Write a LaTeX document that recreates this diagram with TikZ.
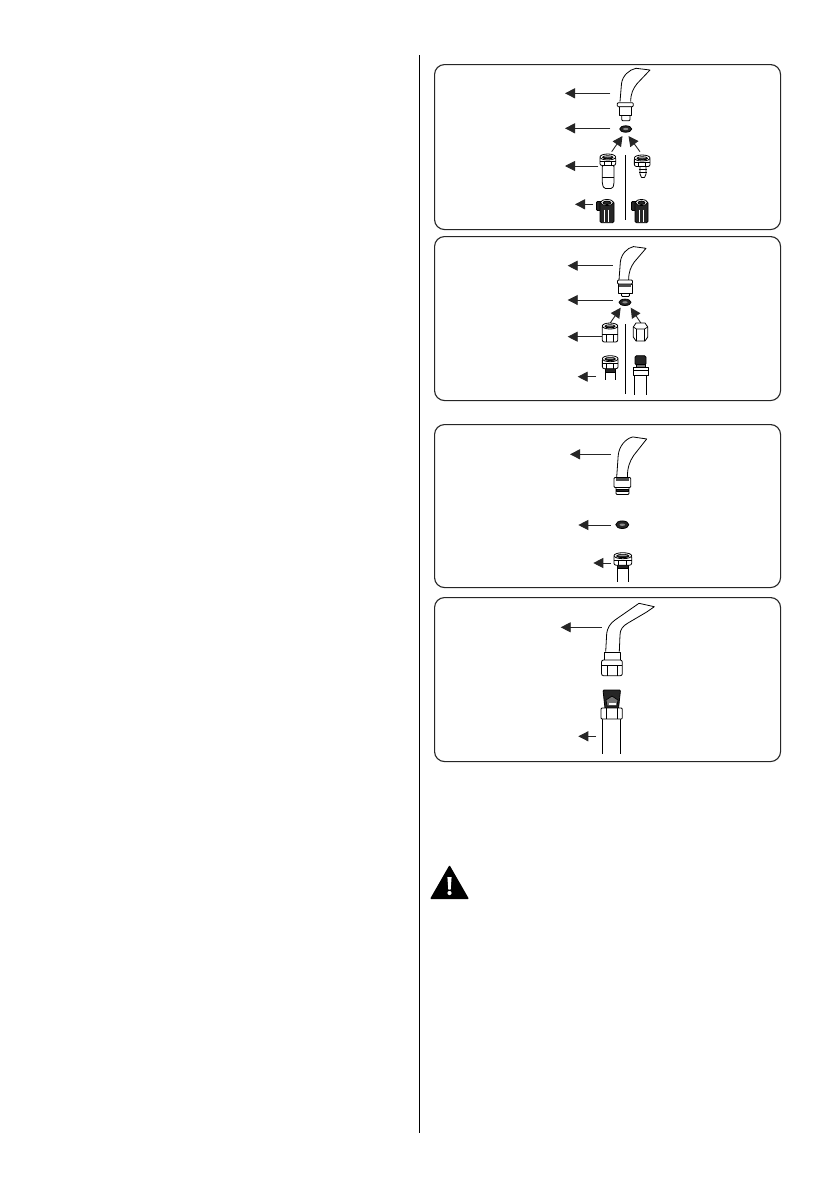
\documentclass[tikz,border=0pt]{standalone}
\usetikzlibrary{arrows.meta}
\tikzset{
  panel/.style={draw=black!85,line width=1.1pt,rounded corners=10pt,fill=white},
  lead/.style={draw=black!85,line width=.9pt,-{Triangle[length=10pt,width=10pt]}},
  part/.style={draw=black,line width=.8pt,fill=white,line join=round},
  dark/.style={draw=black,line width=.8pt,fill=black!85,line join=round},
  mid/.style={draw=black,line width=.7pt,fill=black!55},
  thin/.style={draw=black,line width=.7pt},
  divider/.style={draw=black,line width=.9pt}
}
\newcommand{\hosebend}{%
  \path[part] (0,0) -- (1.5,-18) .. controls (2.5,-26) and (9,-32) .. (16,-33.4)
    -- (30,-31.7) -- (17,-18) .. controls (13,-13) and (10.7,-8) .. (10.7,0);
}
\newcommand{\washer}[1]{%
  \path[dark] (#1) ellipse (6pt and 3.2pt);
  \path[fill=black!45] (#1) ellipse (2.6pt and 1.1pt);
}
\newcommand{\arrowpair}[5]{%
  \coordinate (#1s) at (#2,#4); \coordinate (#1e) at (#3,#5);
  \draw[lead] (#1s) -- (#1e);
}
% nut seen slightly from above: centre x, top y, width, height
\newcommand{\nutt}[4]{%
  \begin{scope}[shift={(#1,#2)}]
    \pgfmathsetmacro{\hw}{#3/2}
    \path[part,rounded corners=2pt] (-\hw,2.5) rectangle (\hw,#4);
    \draw[thin] (-\hw,{#4*.62}) -- (\hw,{#4*.62});
    \draw[thin] ({-\hw*.45},{#4*.62}) -- ({-\hw*.45},#4) ({\hw*.45},{#4*.62}) -- ({\hw*.45},#4);
    \path[part] (0,3) ellipse ({\hw} and 3);
    \path[dark] (0,3.3) ellipse ({\hw-2.6} and 1.6);
    \path[fill=black!40] (0,2.6) ellipse ({\hw-4.2} and .7);
  \end{scope}
}
% dark cartridge: centre x, top y, width, height
\newcommand{\cart}[4]{%
  \begin{scope}[shift={(#1,#2)}]
    \pgfmathsetmacro{\hw}{#3/2}
    \path[dark,rounded corners=1pt] ({-\hw-3.5},2) rectangle (-\hw+2,11);
    \path[dark,rounded corners=1.5pt] (-\hw,2) rectangle (\hw,#4);
    \path[part] (0,3) ellipse ({\hw-.5} and 3);
    \path[dark] (0,3.3) ellipse ({\hw-3} and 1.7);
    \draw[white,line width=.5pt] (-2.5,10) -- (-2.5,{#4-1}) (1.5,10) -- (1.5,{#4-1});
  \end{scope}
}
\begin{document}
\begin{tikzpicture}[x=1pt,y=-1pt]
\useasboundingbox[fill=white] (0,0) rectangle (840,1192);
\coordinate (dtop) at (419,55); \coordinate (dbot) at (419,1133);
\draw[black,line width=.9pt] (dtop) -- (dbot);
% panels
\node[panel,minimum width=346pt,minimum height=165pt,anchor=north west,inner sep=0pt] (p1) at (434,64) {};
\node[panel,minimum width=346pt,minimum height=164pt,anchor=north west,inner sep=0pt] (p2) at (434,236) {};
\node[panel,minimum width=346pt,minimum height=163pt,anchor=north west,inner sep=0pt] (p3) at (434,424) {};
\node[panel,minimum width=346pt,minimum height=164pt,anchor=north west,inner sep=0pt] (p4) at (434,597) {};

% ---------- panel 1
\begin{scope}[shift={(620,101.7)}]\hosebend\end{scope}
\path[part,rounded corners=1pt] (621.7,114) rectangle (630,120.7);
\path[part] (619,106.7) rectangle (631.7,115);
\path[part,rounded corners=1pt] (617.3,102.7) rectangle (633.3,106.7);
\washer{625.7,129}
\arrowpair{a1}{610.3}{565}{93.3}{93.3}
\arrowpair{a2}{610.3}{565}{128.3}{128.3}
\arrowpair{a3}{598.3}{565}{166}{166}
\arrowpair{a4}{593.3}{575}{204.3}{204.3}
\arrowpair{a5}{611.7}{622.5}{151.7}{136}
\arrowpair{a6}{640}{628.5}{151.7}{136}
\coordinate (v1a) at (625.7,155); \coordinate (v1b) at (625.7,220);
\draw[divider] (v1a) -- (v1b);
% left long nut
\path[part,rounded corners=1.5pt] (602.3,165) -- (602.3,184) -- (604,188.5) -- (612.5,188.5) -- (614,184) -- (614,165) -- cycle;
\draw[thin] (602.3,177) -- (614,177);
\nutt{607.8}{154}{15.7}{11.5}
% right nut + spigot
\path[part] (640,166) -- (640,174) -- (641.5,177.5) -- (644.5,177.5) -- (646,174) -- (646,166) -- cycle;
\draw[thin] (638.5,169) -- (647,169) (639,172) -- (646.5,172);
\nutt{642.2}{155}{15.7}{11.5}
% dark bottoms
\cart{607}{199.5}{14}{23.2}
\cart{641.5}{199.5}{13}{23.2}

% ---------- panel 2
\begin{scope}[shift={(619,280)},xscale=.9]\hosebend\end{scope}
\path[part,rounded corners=1pt] (621.5,292) rectangle (629.5,296.5);
\path[part] (618,284) rectangle (632,293);
\path[fill=black!70] (619,284) rectangle (631,286.5);
\path[part,rounded corners=1pt] (617.5,280) rectangle (632.5,284);
\washer{625,302.3}
\arrowpair{b1}{612.7}{567.7}{265.7}{265.7}
\arrowpair{b2}{612.7}{567.7}{300}{300}
\arrowpair{b3}{601.7}{567.7}{336.7}{336.7}
\arrowpair{b4}{596}{577.7}{376.7}{376.7}
\arrowpair{b5}{610}{620.7}{323.3}{307.7}
\arrowpair{b6}{641}{630.7}{323.3}{307.7}
\coordinate (v2a) at (625.3,324); \coordinate (v2b) at (625.3,394);
\draw[divider] (v2a) -- (v2b);
\nutt{610}{323}{15.4}{19}
\path[part] (633.3,327) -- (636,323) -- (645,323) -- (647.7,327) -- (647.7,337) -- (645,341) -- (636,341) -- (633.3,337) -- cycle;
\draw[thin] (633.3,327) -- (636.5,329) -- (644.5,329) -- (647.7,327) (636.5,329) -- (636.5,341) (644.5,329) -- (644.5,341);
% left hose
\draw[thin] (605.7,372) -- (605.7,380) (615,372) -- (615,380);
\path[dark] (605.5,367) rectangle (615,372.5);
\nutt{610.2}{355.7}{15.7}{13}
% right hose
\draw[thin] (634.3,375) -- (634.3,395) (646.7,375) -- (646.7,395);
\path[dark,rounded corners=1.5pt] (635,355.7) rectangle (646,365);
\path[mid] (636,364) rectangle (645,367);
\path[part] (633,367) rectangle (648,375);
\draw[thin] (633,370.5) -- (648,370.5);

% ---------- panel 3
\begin{scope}[shift={(616.7,477)},yscale=1.2]\hosebend\end{scope}
\path[part,rounded corners=1pt] (616,486) rectangle (629,494.5);
\path[dark] (616.5,489) rectangle (628.5,491.5);
\path[part,rounded corners=1pt] (614,477.5) rectangle (630.7,487.5);
\path[fill=black!70] (616,477.5) rectangle (628.5,480.5);
\path[dark] (622.3,524.7) ellipse (6.5pt and 3.8pt);
\path[fill=black!45] (622.3,524.7) ellipse (2.8pt and 1.2pt);
\arrowpair{c1}{610.7}{570}{454.3}{454.3}
\arrowpair{c2}{610.7}{578.3}{525}{525}
\arrowpair{c3}{611}{593.3}{563}{563}
\draw[thin] (617.5,565) -- (617.5,582) (628,565) -- (628,582);
\path[dark] (617.5,564) rectangle (628,568);
\nutt{622.8}{552.7}{17.7}{12.5}

% ---------- panel 4
\path[part] (605.7,651.7) -- (606.7,633.3) .. controls (607.5,628) and (610,623.5) .. (615,620)
  -- (639,603.3) -- (654.3,606.7) -- (646.7,612) -- (628,623)
  .. controls (622.5,626) and (620,630) .. (620,635) -- (619.3,651.7);
\path[part] (604,652) rectangle (620,660);
\path[part,rounded corners=2pt] (601.5,660) -- (622.3,660) -- (622.3,675.7) -- (601.5,675.7) -- cycle;
\draw[thin] (601.5,665) -- (622.3,665) (607,665.5) -- (607,675.7) (617,665.5) -- (617,675.7);
\arrowpair{d1}{601.7}{560.7}{627.3}{627.3}
\arrowpair{d2}{596}{578.3}{736.3}{736.3}
\draw[thin] (602.3,719) -- (602.3,754) (620,719) -- (620,754);
\path[dark,rounded corners=1pt] (603,690) -- (620.5,690) -- (618.5,708.5) -- (605,708.5) -- cycle;
\path[mid] (606,700) -- (612,696) -- (618,700) -- (617,706) -- (607,706) -- cycle;
\path[fill=white] (608.5,702.5) rectangle (615.5,704.5);
\path[part,rounded corners=1pt] (601,708) rectangle (622.3,719);
\draw[thin] (606.5,708) -- (606.5,719) (617,708) -- (617,719);

% warning triangle
\path[fill=black,rounded corners=1pt] (449.5,865) -- (469,899) -- (430,899) -- cycle;
\path[fill=white] (447.4,877) -- (451.6,877) -- (450.7,889.5) -- (448.3,889.5) -- cycle;
\path[fill=white] (449.5,893) circle (2.1pt);
\end{tikzpicture}
\end{document}
